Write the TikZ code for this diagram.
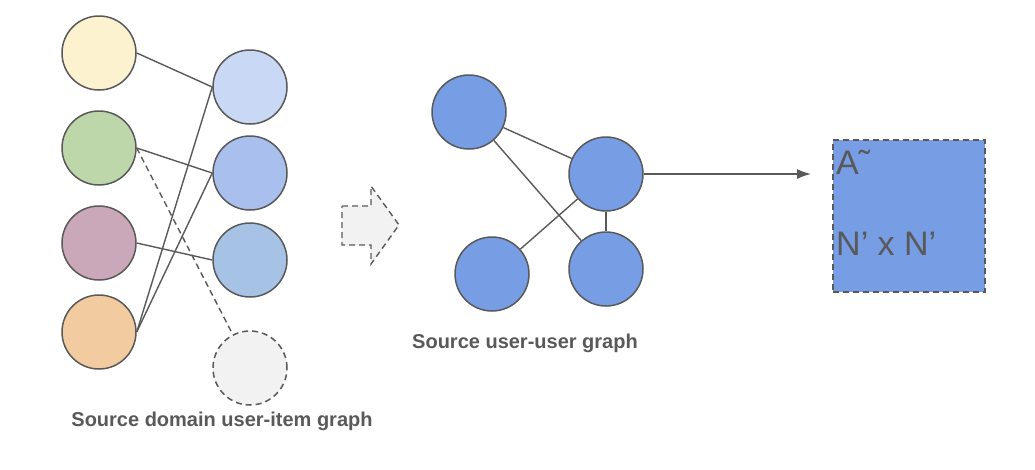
\documentclass[tikz,border=0pt]{standalone}
\usepackage{fontspec}
\setmainfont{Liberation Sans}
\usetikzlibrary{arrows.meta, positioning}
\definecolor{linegray}{HTML}{595959}
\definecolor{useryellow}{HTML}{FDF2D0}
\definecolor{usergreen}{HTML}{BDD7AB}
\definecolor{userpurple}{HTML}{CBA8B9}
\definecolor{userorange}{HTML}{F2CBA0}
\definecolor{itemblueA}{HTML}{C9D9F5}
\definecolor{itemblueB}{HTML}{A9C0EE}
\definecolor{itemblueC}{HTML}{A6C2E5}
\definecolor{itemgray}{HTML}{F2F2F2}
\definecolor{graphblue}{HTML}{779DE5}

\begin{document}
\begin{tikzpicture}[x=1pt, y=-1pt,
        vertex/.style={circle, draw=linegray, line width=1.5pt, minimum size=74pt, inner sep=0pt},
        edge/.style={draw=linegray, line width=1.4pt},
        dashline/.style={dash pattern=on 6pt off 4pt},
        caption/.style={text=linegray, font=\bfseries\fontsize{20}{24}\selectfont},
    ]
        \useasboundingbox (0,0) rectangle (1035,469);

        % user-item graph
        \node[vertex, fill=useryellow] (u1) at (99,53) {};
        \node[vertex, fill=usergreen] (u2) at (99,148) {};
        \node[vertex, fill=userpurple] (u3) at (99,243) {};
        \node[vertex, fill=userorange] (u4) at (99,332) {};
        \node[vertex, fill=itemblueA] (i1) at (250,87) {};
        \node[vertex, fill=itemblueB] (i2) at (250,173) {};
        \node[vertex, fill=itemblueC] (i3) at (250,260) {};
        \node[vertex, fill=itemgray, dashline] (i4) at (250,368) {};

        \draw[edge] (u1.east) -- (i1.west);
        \draw[edge] (u2.east) -- (i2.west);
        \draw[edge] (u3.east) -- (i3.west);
        \draw[edge] (u4.east) -- (i1.west);
        \draw[edge] (u4.east) -- (i2.west);
        \draw[edge, dashline] (u2.east) -- (i4);

        \node[caption] (leftcap) at (222,421) {Source domain user-item graph};

        % block arrow
        \draw[draw=linegray, fill=itemgray, line width=1.4pt, dashline]
            (342,206) -- (371,206) -- (371,186) -- (399,225) -- (371,264) -- (371,245) -- (342,245) -- cycle;

        % user-user graph
        \node[vertex, fill=graphblue] (a) at (469,112) {};
        \node[vertex, fill=graphblue] (b) at (606,174) {};
        \node[vertex, fill=graphblue] (c) at (492,274) {};
        \node[vertex, fill=graphblue] (d) at (606,269) {};

        \draw[edge] (a) -- (b);
        \draw[edge] (a) -- (d);
        \draw[edge] (c) -- (b);
        \draw[edge] (b) -- (d);

        \node[caption] (midcap) at (525,343) {Source user-user graph};

        % adjacency matrix
        \node[draw=linegray, fill=graphblue, dashline, line width=1.4pt, minimum size=152pt, inner sep=0pt] (adj) at (909,216) {};
        \coordinate (adjin) at (811,174);
        \draw[edge, -{Latex[length=14pt,width=10pt]}] (b.east) -- (adjin);

        \node[anchor=north west, inner sep=0pt, text=linegray, font=\fontsize{34}{38}\selectfont] (tilde) at (836,150) {A˜};
        \node[anchor=north west, inner sep=0pt, text=linegray, font=\fontsize{34}{38}\selectfont] (size) at (836,232) {N’ x N’};
\end{tikzpicture}
\end{document}
